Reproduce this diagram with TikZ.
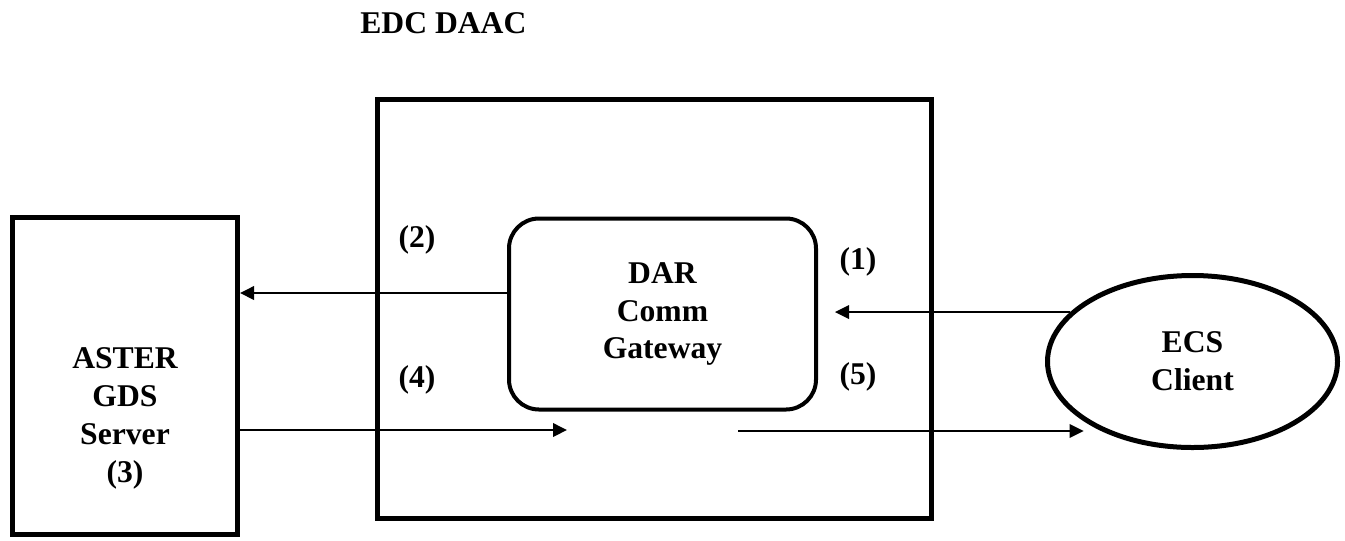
\documentclass[tikz,border=0pt]{standalone}
\usepackage{fontspec}
\setmainfont{Liberation Serif}
\usetikzlibrary{arrows.meta,positioning,calc,shapes.geometric}

\begin{document}
\begin{tikzpicture}[x=0.2mm, y=-0.2mm,
  font=\fontsize{18}{21.6}\selectfont\bfseries,
  srv/.style={draw, line width=1mm, inner sep=0pt,
              minimum width=45mm, minimum height=63.4mm},
  daac/.style={draw, line width=1mm, inner sep=0pt,
               minimum width=110.8mm, minimum height=83.8mm},
  gate/.style={draw, line width=0.8mm, rounded corners=6mm, align=center,
               inner sep=0pt, minimum width=61.4mm, minimum height=38.2mm},
  cli/.style={draw, ellipse, line width=1mm, align=center, inner sep=0pt,
              minimum width=58mm, minimum height=34.4mm},
  a/.style={-{Triangle[length=2.8mm, width=2.7mm]}, line width=0.4mm},
  lbl/.style={inner sep=0pt, align=center}]

\useasboundingbox (0,0) rectangle (1345,540);

\node[lbl, anchor=base west] (title) at (360,33) {EDC DAAC};
\node[daac] (daac) at (654.5,309) {};

\node[srv] (aster) at (125,376) {};
\node[lbl] (asterlbl) at (125,418) {ASTER\\GDS\\Server\\(3)};

\node[gate] (gw) at (662.5,314) {DAR\\Comm\\Gateway};
\node[cli] (client) at (1192.5,361.5) {ECS\\Client};

% step labels
\node[lbl] (n2) at (417,240) {(2)};
\node[lbl] (n4) at (417,380) {(4)};
\node[lbl] (n1) at (858,262) {(1)};
\node[lbl] (n5) at (858,377) {(5)};

\coordinate (o2) at ($(gw.west)+(0,-21)$);
\coordinate (i1) at (client.158);
\coordinate (r3) at (567,430);
\coordinate (s5) at (738,431);

\draw[a] (i1) -- ([xshift=3.4mm]i1 -| gw.east);
\draw[a] (o2) -- (o2 -| aster.east);
\draw[a] (r3 -| aster.east) -- (r3);
\draw[a, shorten >=3.8mm] (s5) -- (s5 -| client.218);
\end{tikzpicture}
\end{document}
